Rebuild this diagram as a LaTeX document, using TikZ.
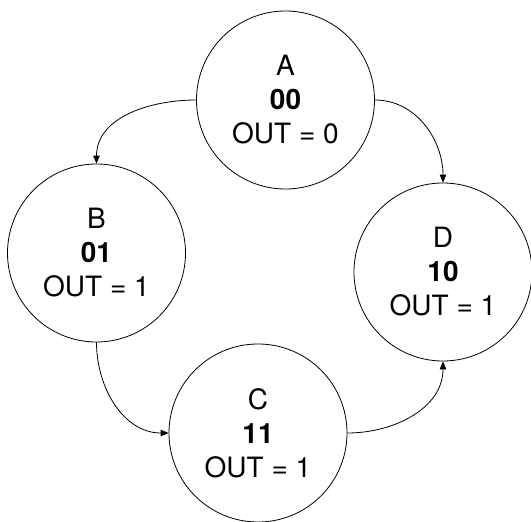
\documentclass[tikz,border=0pt]{standalone}
\usepackage{fontspec}
\setmainfont{TeX Gyre Heros}
\usetikzlibrary{arrows.meta}

\begin{document}
\begin{tikzpicture}[
    x=1pt, y=1pt,
    >={Triangle[length=8pt, width=6.5pt]},
    state/.style={circle, draw, line width=0.8pt, minimum size=178pt, inner sep=0pt,
                  align=center, font=\fontsize{28}{34}\selectfont}, % Style for the states
    trans/.style={->, line width=0.8pt} % Style for the transitions
]

% --- Fix the page size ---
\useasboundingbox (0,0) rectangle (531,-522);

% --- States ---
\node[state] (A) at (285.5,-100) {A\\\textbf{00}\\OUT = 0};
\node[state] (B) at (96.5,-253) {B\\\textbf{01}\\OUT = 1};
\node[state] (C) at (258,-433) {C\\\textbf{11}\\OUT = 1};
\node[state] (D) at (443,-272) {D\\\textbf{10}\\OUT = 1};

% --- Transitions ---
\draw[trans] (A.west) to[out=180, in=90] (B.north);
\draw[trans] (A.east) to[out=0, in=90] (D.north);
\draw[trans] (B.south) to[out=270, in=180] (C.west);
\draw[trans] (C.east) to[out=0, in=270] (D.south);

\end{tikzpicture}
\end{document}
